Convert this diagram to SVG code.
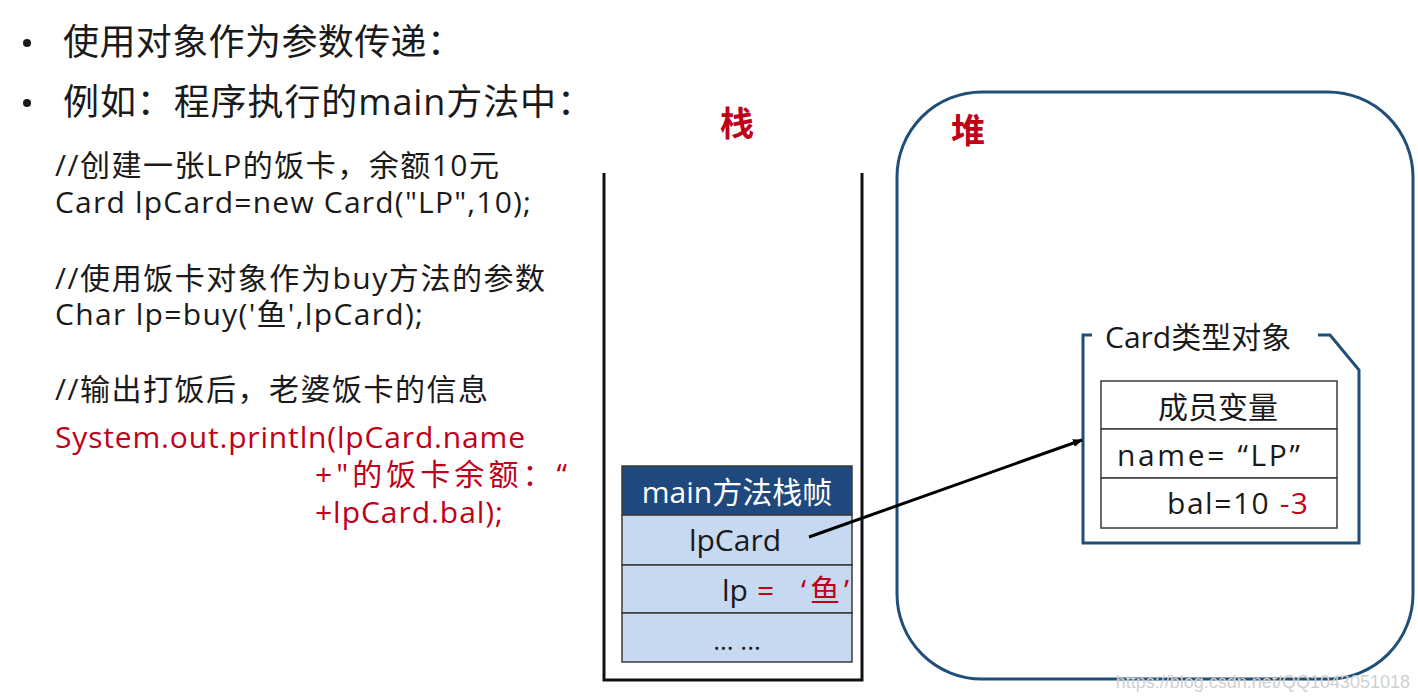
<svg xmlns="http://www.w3.org/2000/svg" width="1418" height="699" viewBox="0 0 1418 699">
<style>
text{font-family:"Open Sans","Noto Sans CJK SC",sans-serif;fill:#1a1a1a}
.h{font-size:36px}
.c{font-size:30px}
.r{fill:#c00018}
.w{fill:#ffffff}
.lbl{font-size:34px;fill:#c00018;font-weight:bold}
.cell{stroke:#3a3a3a;stroke-width:1.5}
</style>
<defs>
<marker id="ah" markerWidth="10" markerHeight="8" refX="9" refY="4" orient="auto" markerUnits="userSpaceOnUse">
<path d="M0,0 L10,4 L0,8 Z" fill="#000"/>
</marker>
</defs>
<rect width="1418" height="699" fill="#fff"/>
<g id="intro">
<circle cx="27" cy="43" r="4" fill="#1a1a1a"/>
<text class="h" x="63" y="55" textLength="400" lengthAdjust="spacing">使用对象作为参数传递：</text>
<circle cx="27" cy="103" r="4" fill="#1a1a1a"/>
<text class="h" x="63" y="115" textLength="530" lengthAdjust="spacing">例如：程序执行的main方法中：</text>
</g>
<g id="code">
<text class="c" x="55" y="176" textLength="444" lengthAdjust="spacing">//创建一张LP的饭卡，余额10元</text>
<text class="c" x="55" y="213" textLength="476" lengthAdjust="spacing">Card lpCard=new Card("LP",10);</text>
<text class="c" x="55" y="289" textLength="490" lengthAdjust="spacing">//使用饭卡对象作为buy方法的参数</text>
<text class="c" x="55" y="325" textLength="368" lengthAdjust="spacing">Char lp=buy('鱼',lpCard);</text>
<text class="c" x="55" y="400" textLength="433" lengthAdjust="spacing">//输出打饭后，老婆饭卡的信息</text>
<text class="c r" x="55" y="448" textLength="470" lengthAdjust="spacing">System.out.println(lpCard.name</text>
<text class="c r" x="315" y="485" textLength="252" lengthAdjust="spacing">+"的饭卡余额：“</text>
<text class="c r" x="315" y="523" textLength="188" lengthAdjust="spacing">+lpCard.bal);</text>
</g>
<g id="stack">
<text class="lbl" x="737" y="136" text-anchor="middle">栈</text>
<path d="M604,173 V680 H862 V173" fill="none" stroke="#111" stroke-width="3"/>
</g>
<g id="heap">
<rect x="897" y="92" width="516" height="587" rx="85" ry="85" fill="none" stroke="#1f4e79" stroke-width="3"/>
<text class="lbl" x="968" y="143" text-anchor="middle">堆</text>
</g>
<g id="main-frame">
<rect x="622" y="466" width="230" height="49" fill="#1f497d" class="cell"/>
<rect x="622" y="515" width="230" height="50" fill="#c6d9f0" class="cell"/>
<rect x="622" y="565" width="230" height="48" fill="#c6d9f0" class="cell"/>
<rect x="622" y="613" width="230" height="49" fill="#c6d9f0" class="cell"/>
<text class="c w" x="737" y="503" text-anchor="middle">main方法栈帧</text>
<text class="c" x="735" y="551" text-anchor="middle">lpCard</text>
<text class="c" x="722" y="601">lp</text>
<text class="c r" x="757" y="601">=</text>
<text class="c r" x="801" y="601" textLength="48" lengthAdjust="spacing">‘鱼’</text>
<text x="737" y="650" text-anchor="middle" style="font-size:26px">... ...</text>
</g>
<g id="card-object">
<path d="M1092,335 H1083 V543 H1359 V370 L1330,335 H1318" fill="none" stroke="#1f4e79" stroke-width="3"/>
<text class="c" x="1105" y="348">Card类型对象</text>
<rect x="1101" y="381" width="236" height="48" fill="#fff" class="cell"/>
<rect x="1101" y="429" width="236" height="49" fill="#fff" class="cell"/>
<rect x="1101" y="478" width="236" height="50" fill="#fff" class="cell"/>
<text class="c" x="1218" y="418" text-anchor="middle">成员变量</text>
<text class="c" x="1117" y="466" textLength="183" lengthAdjust="spacing">name= “LP”</text>
<text class="c" x="1167" y="514" textLength="141" lengthAdjust="spacing">bal=10 <tspan class="r">-3</tspan></text>
</g>
<g id="connectors">
<line x1="809" y1="537" x2="1082" y2="440" stroke="#000" stroke-width="3" marker-end="url(#ah)"/>
</g>
<text x="1410" y="688" text-anchor="end" style="font-family:'Liberation Sans',sans-serif;font-size:18px;fill:#d0d0d0">https://blog.csdn.net/QQ1043051018</text>
</svg>
